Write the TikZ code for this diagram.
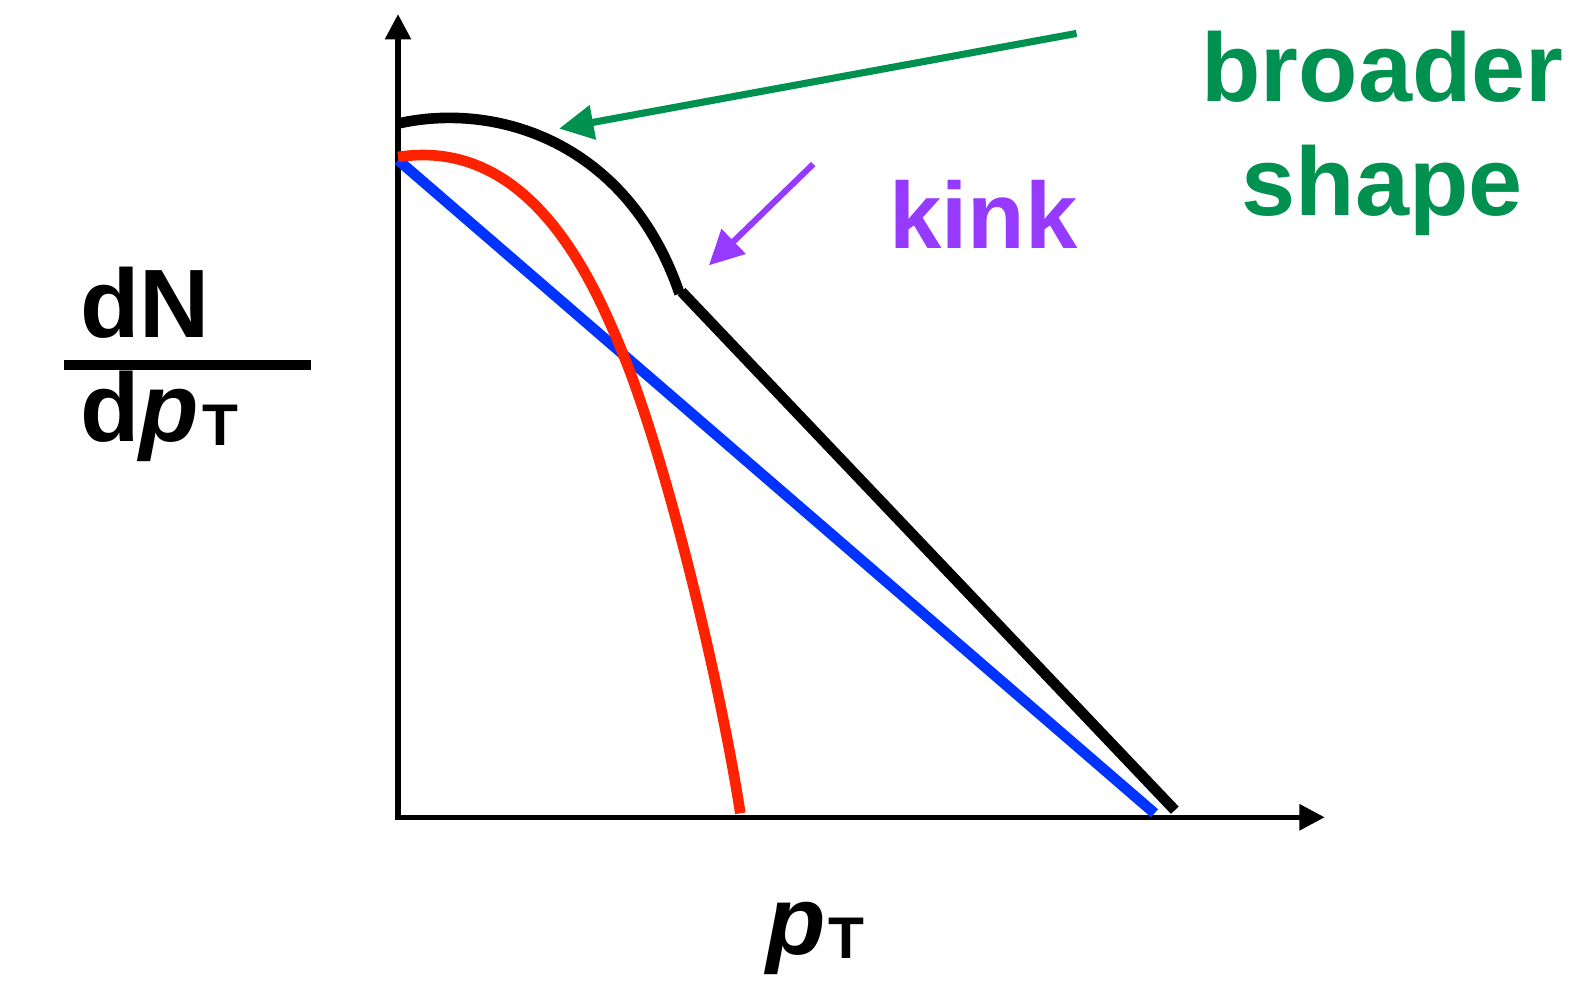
\documentclass[tikz,border=0pt]{standalone}
\usepackage{fontspec}
\setmainfont{Liberation Sans}
\usetikzlibrary{arrows.meta}

\definecolor{thermred}{RGB}{255,34,0}
\definecolor{powerblue}{RGB}{0,51,255}
\definecolor{broadgreen}{RGB}{0,144,80}
\definecolor{kinkpurple}{RGB}{150,58,255}

\newcommand{\ptsub}{\kern3pt\raisebox{-4pt}{\fontsize{58}{58}\selectfont T}}

\tikzset{
  axisline/.style={line width=5pt, -{Triangle[length=25pt,width=25pt]}},
  spectrum/.style={line width=10.5pt},
  pointer/.style={-{Triangle[length=34pt,width=33pt]}},
  bigtext/.style={font=\fontsize{96}{113}\selectfont\bfseries, inner sep=0pt},
}

\begin{document}
\begin{tikzpicture}[x=1pt,y=-1pt]
\useasboundingbox (0,0) rectangle (1568,968);

\coordinate (O) at (393,807);
\coordinate (ytip) at (393,14);
\coordinate (xtip) at (1308,807);
\coordinate (kinkpt) at (671,290);

% Axes
\draw[axisline] (393,810) -- (ytip);
\draw[axisline] (391,807) -- (xtip);

% Spectra
\draw[spectrum, powerblue] (393,158) -- (1140,803);
\draw[spectrum, thermred] (393,155) .. controls (523,135) and (585,275) .. (615,349)
  .. controls (660,460) and (712,680) .. (731,803);
\draw[spectrum, black] (393,122) .. controls (490,100) and (620,140) .. (kinkpt);
\draw[spectrum, black] (673,288) -- (1160,800);

% Pointers
\coordinate (greentail) at (1063,33);
\coordinate (greentip) at (552,127);
\coordinate (purpletail) at (803,162);
\coordinate (purpletip) at (700,262);
\draw[pointer, broadgreen, line width=7pt] (greentail) -- (greentip);
\draw[pointer, kinkpurple, line width=6pt] (purpletail) -- (purpletip);

% Labels
\node[bigtext, text=kinkpurple, anchor=base, font=\fontsize{93}{100}\selectfont\bfseries] (kink) at (971,245) {kink};
\node[bigtext, text=broadgreen, anchor=base] (broader) at (1365,100) {broader};
\node[bigtext, text=broadgreen, anchor=base] (shape) at (1365,213) {shape};

\node[bigtext, anchor=base west] (dN) at (79,333) {dN};
\draw[line width=10pt] (63,360) -- (307,360);
\node[bigtext, anchor=base west] (dpT) at (79,436) {d\textit{p}\ptsub};
\node[bigtext, anchor=base] (pT) at (805,942) {\textit{p}\ptsub};
\end{tikzpicture}
\end{document}
